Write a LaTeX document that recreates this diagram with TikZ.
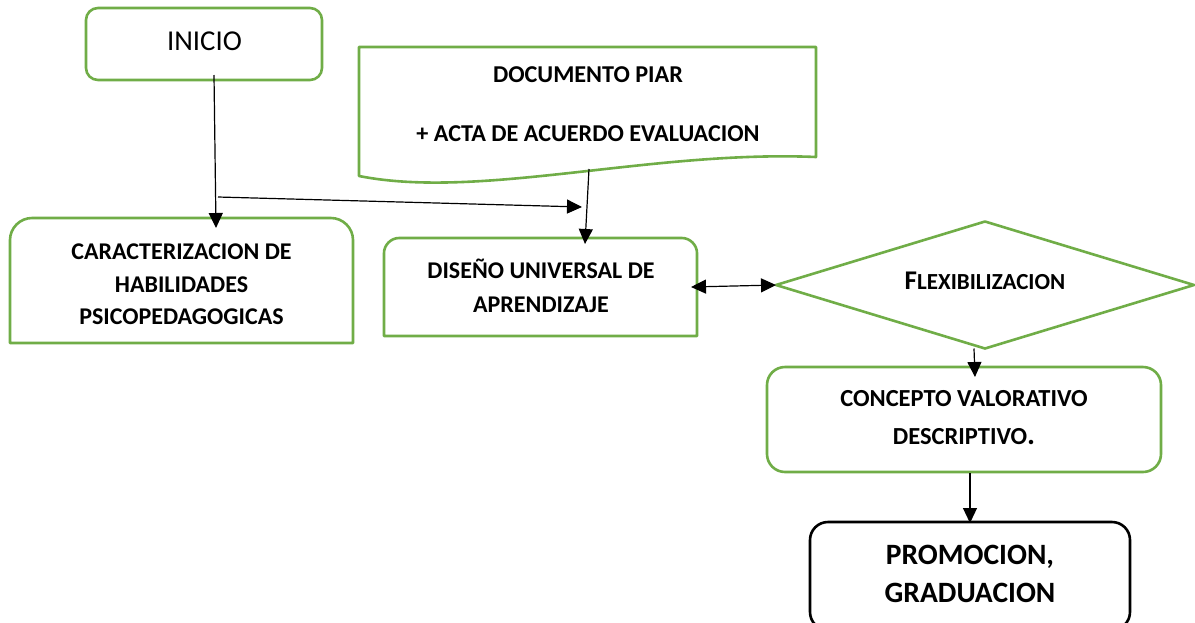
\documentclass[tikz,border=0pt]{standalone}
\usepackage{fontspec}
\setmainfont{Carlito}
\usetikzlibrary{arrows.meta,shapes.geometric,calc}
\definecolor{grn}{HTML}{70AD47}
\tikzset{
  gline/.style={draw=grn, line width=2.6pt, line join=round},
  holder/.style={inner sep=0pt, outer sep=0pt},
  txt/.style={inner sep=0pt, align=center, font=\bfseries\fontsize{24}{32.5}\selectfont},
  conn/.style={line width=1.2pt, -{Triangle[length=15pt,width=14pt]}},
  dconn/.style={line width=1.2pt, {Triangle[length=15pt,width=14pt]}-{Triangle[length=15pt,width=14pt]}}
}
\begin{document}
\begin{tikzpicture}[x=1pt,y=-1pt]
\useasboundingbox (0,0) rectangle (1195,622);
\clip (0,0) rectangle (1195,622);
\fill[white] (0,0) rectangle (1195,622);

% INICIO
\node[holder, gline, rounded corners=12pt, minimum width=236pt, minimum height=72pt] (ini) at (204,44) {};
\node[inner sep=0pt, anchor=base, font=\fontsize{28.8}{34}\selectfont] (ini-t) at (204.5,50) {INICIO};

% Documento
\node[holder, minimum width=457pt, minimum height=130pt] (doc) at (587.5,112) {};
\draw[gline] (359,176) -- (359,47) -- (816,47) -- (816,157)
  .. controls (650,150) and (480,200) .. (359,176) -- cycle;
\node[txt, font=\bfseries\fontsize{24.2}{59.3}\selectfont] (doc-t) at (588,104) {DOCUMENTO PIAR\\+ ACTA DE ACUERDO EVALUACION};

% Caracterizacion
\node[holder, minimum width=343pt, minimum height=125pt] (car) at (181.5,280.5) {};
\draw[gline] (car.south west) -- ($(car.north west)+(0,22)$)
  .. controls ($(car.north west)+(0,10)$) and ($(car.north west)+(10,0)$) .. ($(car.north west)+(22,0)$)
  -- ($(car.north east)+(-22,0)$)
  .. controls ($(car.north east)+(-10,0)$) and ($(car.north east)+(0,10)$) .. ($(car.north east)+(0,22)$)
  -- (car.south east) -- cycle;
\node[txt] (car-t) at (181.5,284.6) {CARACTERIZACION DE\\HABILIDADES\\PSICOPEDAGOGICAS};

% Diseno
\node[holder, minimum width=313pt, minimum height=98pt] (dis) at (540.5,287) {};
\draw[gline] (dis.south west) -- ($(dis.north west)+(0,15)$)
  .. controls ($(dis.north west)+(0,7)$) and ($(dis.north west)+(7,0)$) .. ($(dis.north west)+(15,0)$)
  -- ($(dis.north east)+(-15,0)$)
  .. controls ($(dis.north east)+(-7,0)$) and ($(dis.north east)+(0,7)$) .. ($(dis.north east)+(0,15)$)
  -- (dis.south east) -- cycle;
\node[txt, font=\bfseries\fontsize{24}{34}\selectfont] (dis-t) at (541,285.4) {DISEÑO UNIVERSAL DE\\APRENDIZAJE};

% Flexibilizacion
\node[diamond, gline, inner sep=0pt, outer sep=0pt, minimum width=418pt, minimum height=127pt] (flex) at (985,285) {};
\node[inner sep=0pt, anchor=base, font=\bfseries] (flex-t) at (985,289.3) {{\fontsize{27}{30}\selectfont F}{\fontsize{23}{25}\selectfont LEXIBILIZACION}};

% Concepto
\node[holder, gline, rounded corners=18pt, minimum width=394pt, minimum height=105pt] (con) at (964,419.5) {};
\node[txt, font=\bfseries\fontsize{24.5}{38}\selectfont] (con-t) at (964,418) {CONCEPTO VALORATIVO\\DESCRIPTIVO{\fontsize{30}{38}\selectfont .}};

% Promocion
\node[holder, draw=black, line width=2.6pt, rounded corners=18pt, minimum width=320pt, minimum height=108pt] (pro) at (970,576) {};
\node[txt, font=\bfseries\fontsize{29.5}{38}\selectfont] (pro-t) at (970,574.3) {PROMOCION,\\GRADUACION};

% connectors
\coordinate (a1s) at ($(ini.south)+(10,-5)$);
\coordinate (a1e) at ($(car.north)+(34.5,10)$);
\coordinate (a2s) at (218,197);
\coordinate (a2e) at (582,207);
\coordinate (a3s) at ($(doc.south)+(1.5,-8)$);
\coordinate (a3e) at ($(dis.north)+(44.5,6)$);
\coordinate (a4s) at ($(dis.east)+(-6,0)$);
\coordinate (a5s) at ($(flex.south)+(-11,0)$);
\coordinate (a5e) at ($(con.north)+(11,10)$);
\coordinate (a6s) at ($(con.south)+(6,1)$);
\coordinate (a6e) at ($(pro.north)+(0,1)$);

\draw[conn] (a1s) -- (a1e);
\draw[conn] (a2s) -- (a2e);
\draw[conn] (a3s) -- (a3e);
\draw[dconn] (a4s) -- (flex.west);
\draw[conn] (a5s) -- (a5e);
\draw[conn] (a6s) -- (a6e);
\end{tikzpicture}
\end{document}
